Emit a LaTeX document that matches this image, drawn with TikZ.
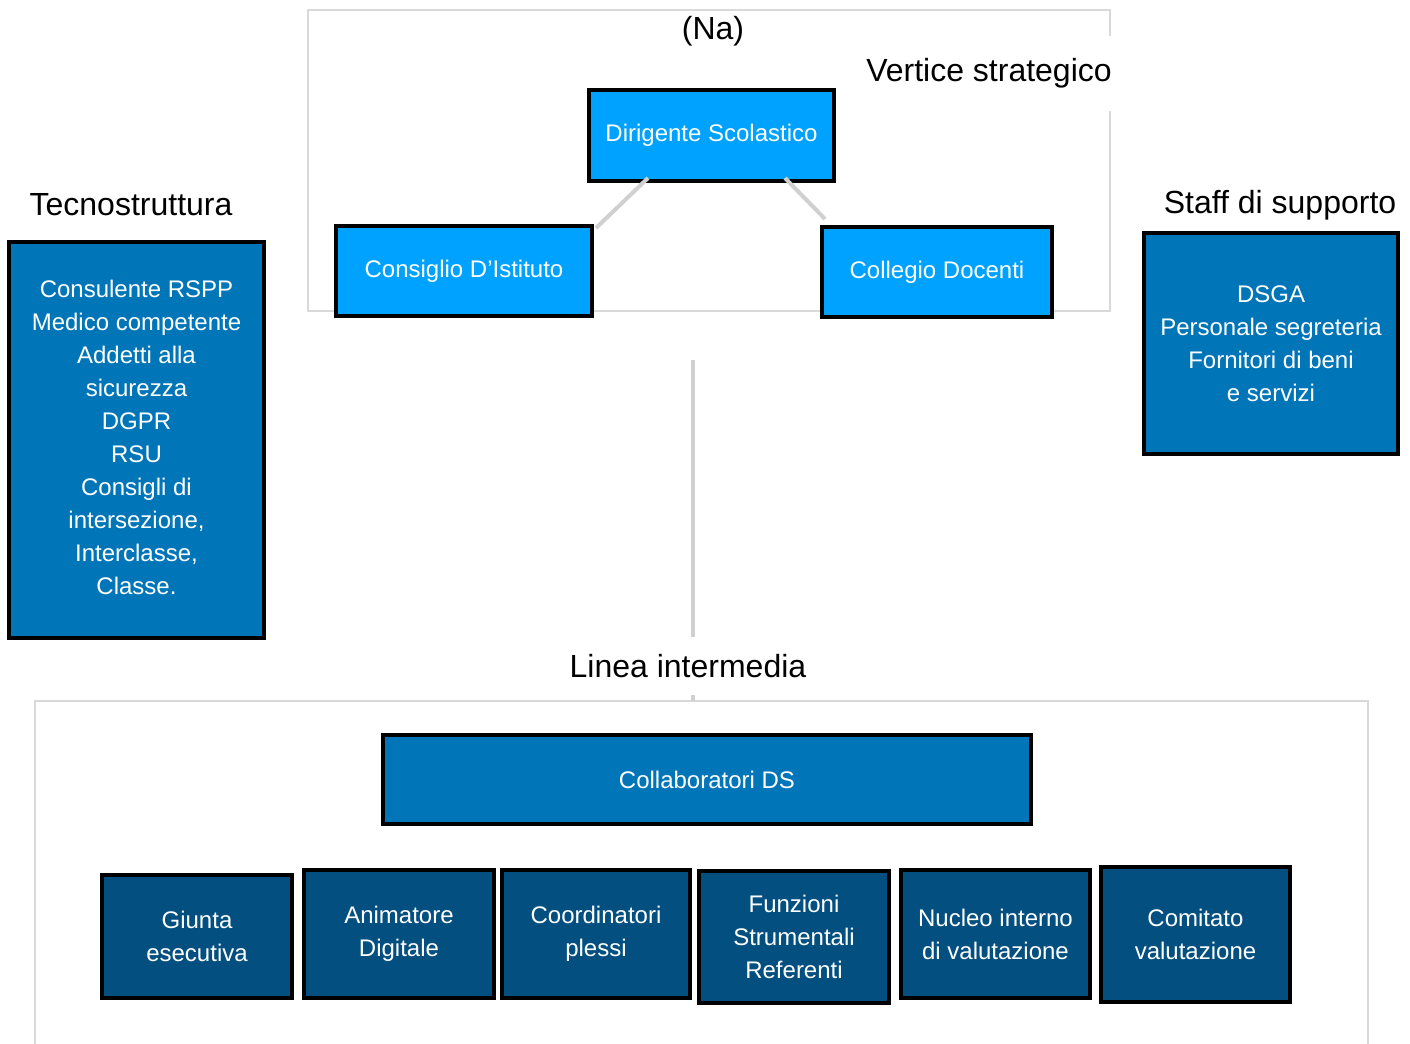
\documentclass[tikz,border=0pt]{standalone}
\usepackage{fontspec}
\setmainfont{Liberation Sans}
\definecolor{bright}{HTML}{00A2FF}
\definecolor{mid}{HTML}{0075B8}
\definecolor{dark}{HTML}{024F80}
\definecolor{frame}{HTML}{D9D9D9}
\definecolor{conn}{HTML}{D0D0D0}
\tikzset{
  box/.style={draw=black, line width=2pt, inner sep=0pt, text=white, align=center,
    font=\fontsize{12}{16.5}\selectfont},
  lbl/.style={inner sep=1pt, font=\fontsize{16}{19}\selectfont, text=black},
  frm/.style={draw=frame, line width=1.2pt},
  cn/.style={draw=conn, line width=2pt},
}
\begin{document}
\begin{tikzpicture}[x=0.5pt,y=-0.5pt]
\useasboundingbox (0,0) rectangle (1410,1044);
\fill[white] (0,0) rectangle (1410,1044);
% frames
\draw[frm] (308,10) rectangle (1110,311);
\draw[frm] (35,1044) -- (35,701) -- (1368,701) -- (1368,1044);
% vertical connector
\coordinate (v1) at (693,360);
\coordinate (v2) at (693,701);
\draw[cn] (v1) -- (v2);
% labels
\node[lbl] (na) at (713,31) {(Na)};
\node[lbl, fill=white, inner xsep=3pt, minimum height=37.5pt] (vs) at (989,73) {Vertice strategico};
\node[lbl, fill=white, inner xsep=3pt, minimum height=29pt] (li) at (688,666) {Linea intermedia};
\node[lbl] (tl) at (131,205) {Tecnostruttura};
\node[lbl] (sl) at (1280,205) {Staff di supporto};
% top boxes
\node[box, fill=bright, minimum width=122.5pt, minimum height=45.5pt] (ds) at (711.5,135.5) {Dirigente Scolastico};
\node[box, fill=bright, minimum width=128pt, minimum height=45pt] (ci) at (464,271) {Consiglio D’Istituto};
\node[box, fill=bright, minimum width=115pt, minimum height=45pt] (cd) at (937,272) {Collegio Docenti};
\coordinate (a1) at (648,178);
\coordinate (a2) at (596,228);
\coordinate (b1) at (785,178);
\coordinate (b2) at (825,219);
\draw[cn] (a1) -- (a2);
\draw[cn] (b1) -- (b2);
% side boxes
\node[box, fill=mid, minimum width=127.5pt, minimum height=198pt] (tb) at (136.5,440) {};
\node[text=white, align=center, font=\fontsize{12}{16.5}\selectfont] (tbt) at (136.5,437)
  {Consulente RSPP\\Medico competente\\Addetti alla\\sicurezza\\DGPR\\RSU\\Consigli di\\intersezione,\\Interclasse,\\Classe.};
\node[box, fill=mid, minimum width=127pt, minimum height=110.5pt] (sb) at (1271,343.5)
  {DSGA\\Personale segreteria\\Fornitori di beni\\e servizi};
% bottom
\node[box, fill=mid, minimum width=324pt, minimum height=44.5pt] (co) at (707,779.5) {Collaboratori DS};
\node[box, fill=dark, minimum width=95pt, minimum height=61.5pt] (g1) at (197,936.5) {Giunta\\esecutiva};
\node[box, fill=dark, minimum width=95pt, minimum height=64pt] (g2) at (399,934) {Animatore\\Digitale};
\node[box, fill=dark, minimum width=94pt, minimum height=64pt] (g3) at (596,934) {Coordinatori\\plessi};
\node[box, fill=dark, minimum width=95pt, minimum height=66pt] (g4) at (794,937) {Funzioni\\Strumentali\\Referenti};
\node[box, fill=dark, minimum width=94.5pt, minimum height=64pt] (g5) at (995.5,934) {Nucleo interno\\di valutazione};
\node[box, fill=dark, minimum width=94.5pt, minimum height=67.5pt] (g6) at (1195.5,934.5) {Comitato\\valutazione};
\end{tikzpicture}
\end{document}
